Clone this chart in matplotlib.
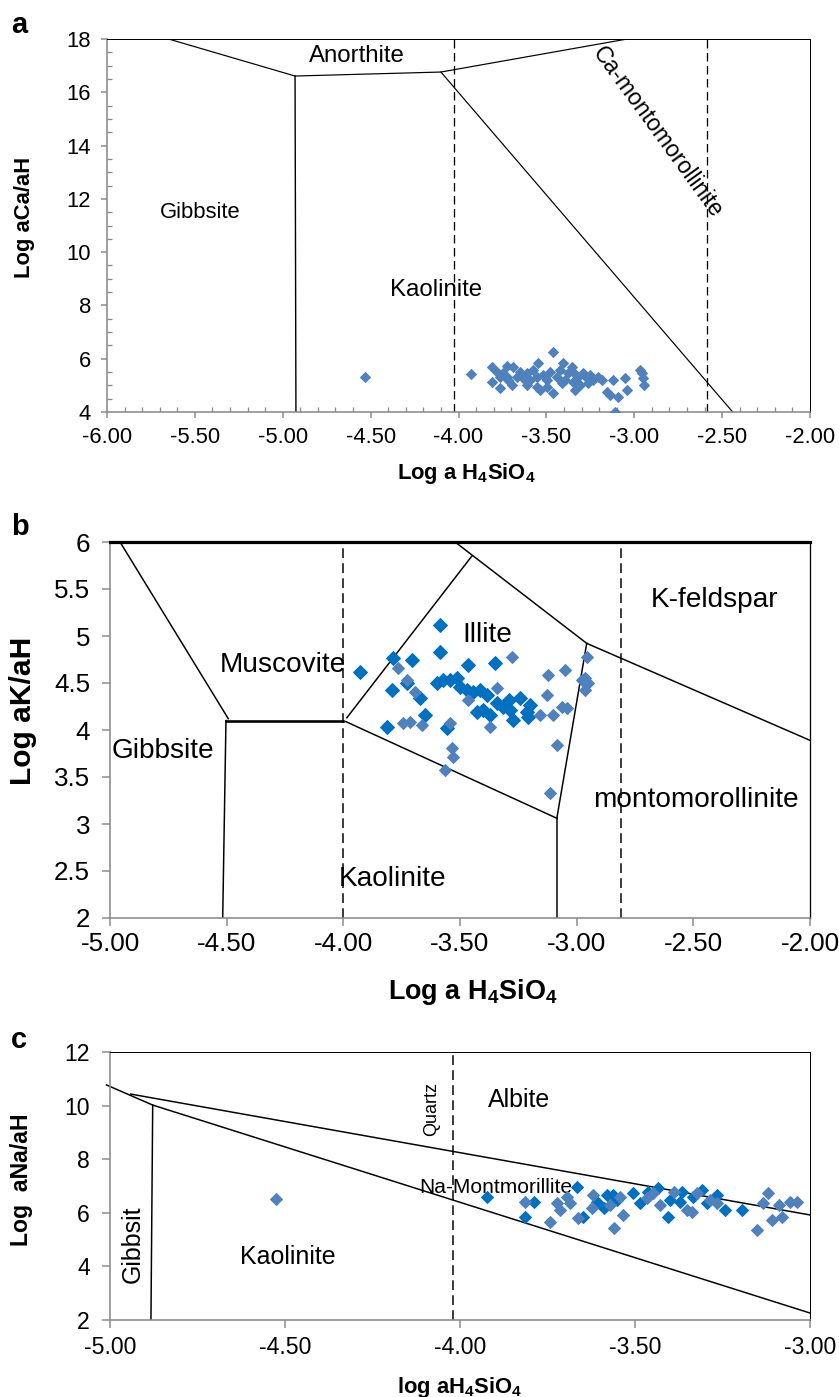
import matplotlib.pyplot as plt
from matplotlib.ticker import FormatStrFormatter, MultipleLocator

plt.rcParams['font.family'] = ['Liberation Sans', 'DejaVu Sans']
plt.rcParams['mathtext.fontset'] = 'custom'
plt.rcParams['mathtext.rm'] = 'Liberation Sans'
plt.rcParams['mathtext.bf'] = 'Liberation Sans:bold'
plt.rcParams['axes.unicode_minus'] = False

# ===================== Data =====================
# panel a: Ca system, one sample series
a_x = [-4.53, -3.93,
       -3.81, -3.783, -3.81, -3.764, -3.745, -3.726, -3.717, -3.698, -3.688, -3.669,
       -3.650, -3.631, -3.612, -3.593, -3.574, -3.555, -3.546, -3.536, -3.517, -3.498,
       -3.479, -3.460, -3.460, -3.441, -3.422, -3.404, -3.394, -3.375, -3.356, -3.347,
       -3.337, -3.318, -3.309, -3.290, -3.271, -3.252, -3.233, -3.204, -3.186, -3.157,
       -3.138, -3.119, -3.110, -3.091, -3.053, -3.043, -2.967, -2.958, -2.948, -2.945,
       -3.555, -3.612, -3.764, -3.726, -3.498, -3.413, -3.347, -3.261]
a_y = [5.30, 5.41,
       5.70, 5.51, 5.14, 4.89, 5.45, 5.73, 5.20, 5.01, 5.70, 5.33,
       5.51, 5.26, 5.45, 5.20, 5.58, 5.33, 5.83, 4.83, 5.39, 5.20,
       5.51, 6.24, 4.73, 5.33, 5.58, 5.83, 5.20, 5.45, 5.70, 5.14,
       4.83, 5.33, 5.01, 5.45, 5.26, 5.39, 5.20, 5.33, 5.20, 4.76,
       4.64, 5.20, 4.01, 4.58, 5.26, 4.83, 5.58, 5.45, 5.26, 5.01,
       4.95, 5.01, 5.33, 5.33, 4.95, 5.08, 5.51, 5.08]

# panel a: stability field boundaries
a_top_x = [-5.65, -4.93, -4.10, -3.04]
a_top_y = [18.0, 16.61, 16.76, 18.0]
a_gibbsite_x = [-4.93, -4.925]
a_gibbsite_y = [16.61, 4.0]
a_kaol_x = [-4.10, -2.44]
a_kaol_y = [16.76, 4.0]
a_dashed = [-4.025, -2.585]

# panel b: K system, two sample groups
b_dark_x = [-3.585, -3.585, -3.786, -3.707, -3.464, -3.350, -3.793, -3.728, -3.671,
            -3.650, -3.814, -3.600, -3.571, -3.543, -3.514, -3.500, -3.471, -3.443,
            -3.414, -3.386, -3.428, -3.400, -3.371, -3.343, -3.314, -3.285, -3.271,
            -3.243, -3.214, -3.200, -3.207, -3.557, -3.928, -3.292]
b_dark_y = [5.117, 4.833, 4.762, 4.745, 4.692, 4.709, 4.426, 4.504, 4.337,
            4.160, 4.035, 4.496, 4.532, 4.532, 4.550, 4.461, 4.426, 4.408,
            4.426, 4.372, 4.195, 4.213, 4.160, 4.284, 4.248, 4.213, 4.106,
            4.337, 4.195, 4.266, 4.142, 4.018, 4.621, 4.319]
b_light_x = [-3.764, -3.728, -3.693, -3.743, -3.714, -3.664, -3.543, -3.535, -3.528,
             -3.564, -3.343, -3.371, -3.464, -3.278, -3.121, -3.050, -3.128, -3.157,
             -3.100, -3.064, -3.043, -3.085, -3.114, -2.957, -2.964, -2.950, -2.964,
             -2.978]
b_light_y = [4.656, 4.532, 4.408, 4.071, 4.089, 4.053, 4.071, 3.805, 3.716,
             3.574, 4.443, 4.035, 4.319, 4.780, 4.585, 4.638, 4.372, 4.160,
             4.160, 4.248, 4.231, 3.841, 3.326, 4.780, 4.550, 4.496, 4.426,
             4.532]

# panel b: stability field boundaries
b_bounds = [
    ([-4.957, -4.493], [6.0, 4.12]),
    ([-4.503, -4.517], [4.10, 2.0]),
    ([-3.985, -3.449], [4.13, 5.851]),
    ([-3.521, -2.957], [6.0, 4.922]),
    ([-2.957, -3.085], [4.922, 3.061]),
    ([-3.990, -3.085], [4.09, 3.061]),
    ([-3.085, -3.085], [3.061, 2.0]),
    ([-2.957, -2.0], [4.922, 3.89]),
]
b_musc_x = [-4.503, -4.0]
b_musc_y = [4.10, 4.10]
b_dashed = [-4.0, -2.81]

# panel c: Na system, two sample groups
c_dark_x = [-3.924, -3.790, -3.814, -3.667, -3.648, -3.610, -3.581, -3.590, -3.552,
            -3.505, -3.486, -3.462, -3.433, -3.405, -3.400, -3.371, -3.367, -3.333,
            -3.310, -3.295, -3.267, -3.243, -3.195, -3.562]
c_dark_y = [6.602, 6.415, 5.855, 6.975, 5.855, 6.415, 6.664, 6.166, 6.478,
            6.726, 6.353, 6.788, 6.913, 5.855, 6.478, 6.415, 6.788, 6.602,
            6.851, 6.353, 6.664, 6.104, 6.104, 6.664]
c_light_x = [-4.526, -3.814, -3.743, -3.724, -3.714, -3.695, -3.686, -3.662, -3.619,
             -3.624, -3.571, -3.560, -3.543, -3.533, -3.467, -3.448, -3.429, -3.390,
             -3.352, -3.338, -3.324, -3.286, -3.267, -3.152, -3.133, -3.119, -3.110,
             -3.090, -3.081, -3.057, -3.038]
c_light_y = [6.50, 6.415, 5.669, 6.353, 6.104, 6.602, 6.353, 5.793, 6.664,
             6.166, 6.291, 5.420, 6.602, 5.918, 6.540, 6.726, 6.291, 6.788,
             6.104, 6.042, 6.726, 6.478, 6.353, 5.358, 6.353, 6.726, 5.731,
             6.291, 5.855, 6.415, 6.415]

# panel c: stability field boundaries
c_lower_x = [-5.01, -4.878, -3.0]
c_lower_y = [10.77, 10.02, 2.26]
c_upper_x = [-4.941, -3.0]
c_upper_y = [10.43, 5.92]
c_gibbsite_x = [-4.878, -4.883]
c_gibbsite_y = [10.02, 2.0]
c_dashed = [-4.021]

# ===================== Figure =====================
W, H, DPI = 839, 1397, 72
fig = plt.figure(figsize=(W / DPI, H / DPI), dpi=DPI)


def box(left, top, right, bottom):
    return [left / W, 1 - bottom / H, (right - left) / W, (bottom - top) / H]


GRAY = '#8a8a8a'
LIGHT = '#4f81bd'
DARK = '#0070c0'
DASH = (0, (6.5, 3.5))
XLAB = 'Log a H$\\mathbf{_4}$SiO$\\mathbf{_4}$'


def style(ax, top_lw=1.0, right_lw=1.0):
    for s in ['left', 'bottom']:
        ax.spines[s].set_color(GRAY)
        ax.spines[s].set_linewidth(1.6)
    ax.spines['top'].set_color('black')
    ax.spines['top'].set_linewidth(top_lw)
    ax.spines['right'].set_color('black')
    ax.spines['right'].set_linewidth(right_lw)


# ----- a -----
ax = fig.add_axes(box(107, 39, 810, 412))
style(ax)
ax.set_xlim(-6, -2)
ax.set_ylim(4, 18)
ax.plot(a_top_x, a_top_y, color='black', lw=1.2)
ax.plot(a_gibbsite_x, a_gibbsite_y, color='black', lw=1.4)
ax.plot(a_kaol_x, a_kaol_y, color='black', lw=1.2)
for xv in a_dashed:
    ax.plot([xv, xv], [4, 18], color='black', lw=1.3, ls=DASH)
ax.plot(a_x, a_y, 'D', ms=7.3, color=LIGHT, ls='none', zorder=3)
ax.xaxis.set_major_locator(MultipleLocator(0.5))
ax.xaxis.set_minor_locator(MultipleLocator(0.1))
ax.yaxis.set_major_locator(MultipleLocator(2))
ax.yaxis.set_minor_locator(MultipleLocator(0.5))
ax.xaxis.set_major_formatter(FormatStrFormatter('%.2f'))
ax.tick_params(which='major', direction='out', length=6, width=1.5, color=GRAY,
               labelsize=22, pad=9)
ax.tick_params(which='minor', direction='in', length=5, width=1.3, color=GRAY)
ax.tick_params(axis='y', which='major', pad=10)
ax.text(-4.58, 17.36, 'Anorthite', fontsize=24, ha='center', va='center')
ax.text(-5.47, 11.47, 'Gibbsite', fontsize=22, ha='center', va='center')
ax.text(-4.13, 8.58, 'Kaolinite', fontsize=24, ha='center', va='center')
ax.text(-2.865, 14.49, 'Ca-montomorollinite', fontsize=23, ha='center', va='center',
        rotation=-54, rotation_mode='anchor')
ax.set_xlabel(XLAB, fontsize=22, fontweight='bold')
ax.xaxis.set_label_coords(0.511, -0.164)
ax.xaxis.label.set_va('center')
ax.set_ylabel('Log aCa/aH', fontsize=22, fontweight='bold')
ax.yaxis.set_label_coords(-0.118, 0.521)
ax.yaxis.label.set_va('center')

# ----- b -----
ax = fig.add_axes(box(110, 542, 810, 918))
style(ax, top_lw=3.2, right_lw=1.3)
ax.set_xlim(-5, -2)
ax.set_ylim(2, 6)
for bx, by in b_bounds:
    ax.plot(bx, by, color='black', lw=1.5)
ax.plot(b_musc_x, b_musc_y, color='black', lw=2.6)
for xv in b_dashed:
    ax.plot([xv, xv], [2, 6], color='black', lw=1.5, ls=DASH)
ax.plot(b_dark_x, b_dark_y, 'D', ms=10.5, color=DARK, ls='none', zorder=3)
ax.plot(b_light_x, b_light_y, 'D', ms=7.8, color=LIGHT, ls='none', zorder=4)
ax.xaxis.set_major_locator(MultipleLocator(0.5))
ax.yaxis.set_major_locator(MultipleLocator(0.5))
ax.xaxis.set_major_formatter(FormatStrFormatter('%.2f'))
ax.yaxis.set_major_formatter(FormatStrFormatter('%g'))
ax.tick_params(which='major', direction='out', length=8, width=1.5, color=GRAY,
               labelsize=26, pad=6)
ax.tick_params(axis='y', which='major', pad=12)
ax.text(-2.411, 5.38, 'K-feldspar', fontsize=28, ha='center', va='center')
ax.text(-3.384, 5.01, 'Illite', fontsize=28, ha='center', va='center')
ax.text(-4.258, 4.69, 'Muscovite', fontsize=28, ha='center', va='center')
ax.text(-4.771, 3.78, 'Gibbsite', fontsize=28, ha='center', va='center')
ax.text(-3.791, 2.41, 'Kaolinite', fontsize=28, ha='center', va='center')
ax.text(-2.488, 3.26, 'montomorollinite', fontsize=28, ha='center', va='center')
ax.set_xlabel(XLAB, fontsize=27, fontweight='bold')
ax.xaxis.set_label_coords(0.519, -0.197)
ax.xaxis.label.set_va('center')
ax.set_ylabel('Log aK/aH', fontsize=30, fontweight='bold')
ax.yaxis.set_label_coords(-0.125, 0.55)
ax.yaxis.label.set_va('center')

# ----- c -----
ax = fig.add_axes(box(110, 1052, 810, 1320))
style(ax)
ax.set_xlim(-5, -3)
ax.set_ylim(2, 12)
ax.plot(c_lower_x, c_lower_y, color='black', lw=1.5, clip_on=False)
ax.plot(c_upper_x, c_upper_y, color='black', lw=1.5)
ax.plot(c_gibbsite_x, c_gibbsite_y, color='black', lw=1.5)
for xv in c_dashed:
    ax.plot([xv, xv], [2, 12], color='black', lw=1.5, ls=DASH)
ax.plot(c_dark_x, c_dark_y, 'D', ms=8, color=DARK, ls='none', zorder=3)
ax.plot(c_light_x, c_light_y, 'D', ms=8, color=LIGHT, ls='none', zorder=4)
ax.xaxis.set_major_locator(MultipleLocator(0.5))
ax.yaxis.set_major_locator(MultipleLocator(2))
ax.xaxis.set_major_formatter(FormatStrFormatter('%.2f'))
ax.tick_params(which='major', direction='out', length=8, width=1.5, color=GRAY,
               labelsize=23, pad=8)
ax.tick_params(axis='y', which='major', pad=12)
ax.text(-3.831, 10.21, 'Albite', fontsize=25, ha='center', va='center')
ax.text(-4.08, 9.87, 'Quartz', fontsize=18, ha='center', va='center', rotation=90)
ax.text(-3.897, 6.96, 'Na-Montmorillite', fontsize=21, ha='center', va='center')
ax.text(-4.491, 4.35, 'Kaolinite', fontsize=25, ha='center', va='center')
ax.text(-4.934, 4.84, 'Gibbsit', fontsize=25, ha='center', va='center', rotation=90)
ax.set_xlabel('log aH$\\mathbf{_4}$SiO$\\mathbf{_4}$', fontsize=22, fontweight='bold')
ax.xaxis.set_label_coords(0.5, -0.25)
ax.xaxis.label.set_va('center')
ax.set_ylabel('Log  aNa/aH', fontsize=23, fontweight='bold')
ax.yaxis.set_label_coords(-0.126, 0.522)
ax.yaxis.label.set_va('center')

# panel letters
for letter, base in [('a', 33), ('b', 535), ('c', 1048)]:
    fig.text(11 / W, 1 - base / H, letter, fontsize=29, fontweight='bold',
             va='baseline', ha='left')

fig.savefig('out.png', dpi=DPI)
